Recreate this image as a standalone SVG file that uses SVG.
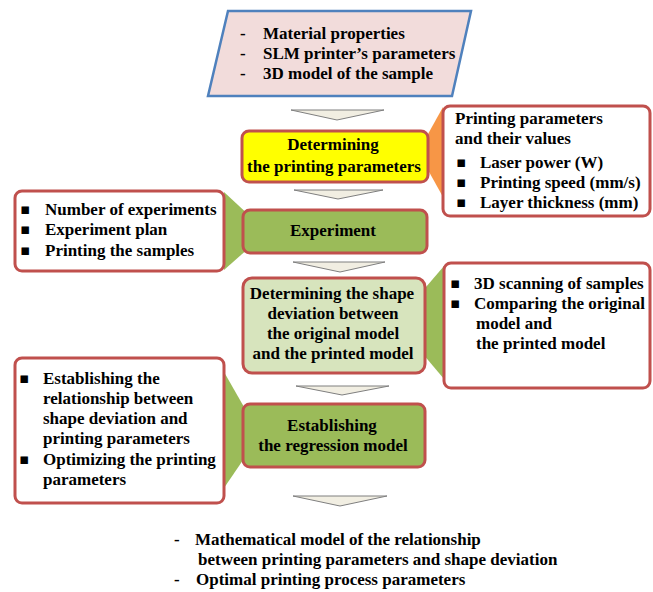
<svg xmlns="http://www.w3.org/2000/svg" width="653" height="592" viewBox="0 0 653 592">
<defs>
<style>
text{font-family:"Liberation Serif","Times New Roman",serif;font-weight:bold;font-size:17px;fill:#000}
.b{font-family:"DejaVu Sans",sans-serif;font-size:15px}
.box{stroke:#c0504d;stroke-width:3}
.chev{fill:#f1eee2;stroke:#7f7f7f;stroke-width:1}
.c{text-anchor:middle}
</style>
</defs>
<rect width="653" height="592" fill="#fff"/>
<g id="connectors">
<polygon class="chev" points="291,110 384,110 337,120"/>
<polygon class="chev" points="294,190 383,190 338,199"/>
<polygon class="chev" points="293,262 385,262 340,272"/>
<polygon class="chev" points="296,386 389,386 342,395"/>
<polygon class="chev" points="293,496 387,496 340,506"/>
<polygon fill="#f79646" points="443,107 443,197 418,152"/>
<polygon fill="#9bbb59" points="224,192 267,232 224,270"/>
<polygon fill="#9bbb59" points="444,266 396,322 444,379"/>
<polygon fill="#9bbb59" points="224,372 260,435 224,488"/>
</g>
<g id="input">
<polygon points="228,11 471,11 452,96 208,96" fill="#f2dcdb" stroke="#4f81bd" stroke-width="2.5"/>
<text x="240" y="39">-</text><text x="263" y="39">Material properties</text>
<text x="240" y="59">-</text><text x="263" y="59">SLM printer’s parameters</text>
<text x="240" y="79">-</text><text x="263" y="79">3D model of the sample</text>
</g>
<g id="params-box">
<rect class="box" x="443" y="106" width="207" height="110" rx="7" fill="#fff"/>
<text x="455" y="124">Printing parameters</text>
<text x="455" y="144">and their values</text>
<text class="b" x="456" y="167">▪</text><text x="480" y="168">Laser power (W)</text>
<text class="b" x="456" y="187">▪</text><text x="480" y="188">Printing speed (mm/s)</text>
<text class="b" x="456" y="207">▪</text><text x="480" y="208">Layer thickness (mm)</text>
</g>
<g id="determining">
<rect class="box" x="242" y="131" width="186" height="51" rx="7" fill="#ffff00"/>
<text class="c" x="333" y="150">Determining</text>
<text class="c" x="334" y="172">the printing parameters</text>
</g>
<g id="experiment-notes">
<rect class="box" x="15" y="191" width="209" height="80" rx="7" fill="#fff"/>
<text class="b" x="20" y="214">▪</text><text x="45" y="215">Number of experiments</text>
<text class="b" x="20" y="234">▪</text><text x="45" y="235">Experiment plan</text>
<text class="b" x="20" y="255">▪</text><text x="45" y="256">Printing the samples</text>
</g>
<g id="experiment">
<rect class="box" x="243" y="210" width="184" height="43" rx="7" fill="#9bbb59"/>
<text class="c" x="333" y="236">Experiment</text>
</g>
<g id="deviation">
<rect class="box" x="243" y="278" width="182" height="95" rx="9" fill="#d7e4bd"/>
<text class="c" x="332" y="299">Determining the shape</text>
<text class="c" x="333" y="319">deviation between</text>
<text class="c" x="333" y="339">the original model</text>
<text class="c" x="333" y="359">and the printed model</text>
</g>
<g id="scan-notes">
<rect class="box" x="444" y="263" width="206" height="125" rx="7" fill="#fff"/>
<text class="b" x="450" y="288">▪</text><text x="474" y="289">3D scanning of samples</text>
<text class="b" x="450" y="308">▪</text><text x="474" y="309">Comparing the original</text>
<text x="476" y="329">model and</text>
<text x="476" y="349">the printed model</text>
</g>
<g id="regression-notes">
<rect class="box" x="15" y="358" width="209" height="145" rx="7" fill="#fff"/>
<text class="b" x="19" y="383">▪</text><text x="43" y="384">Establishing the</text>
<text x="43" y="404">relationship between</text>
<text x="43" y="424">shape deviation and</text>
<text x="43" y="444">printing parameters</text>
<text class="b" x="19" y="464">▪</text><text x="43" y="465">Optimizing the printing</text>
<text x="43" y="485">parameters</text>
</g>
<g id="regression">
<rect class="box" x="243" y="404" width="182" height="63" rx="7" fill="#9bbb59"/>
<text class="c" x="332" y="431">Establishing</text>
<text class="c" x="333" y="451">the regression model</text>
</g>
<g id="output">
<text x="174" y="545">-</text><text x="195" y="545">Mathematical model of the relationship</text>
<text x="198" y="565">between printing parameters and shape deviation</text>
<text x="174" y="585">-</text><text x="196" y="585">Optimal printing process parameters</text>
</g>
</svg>
